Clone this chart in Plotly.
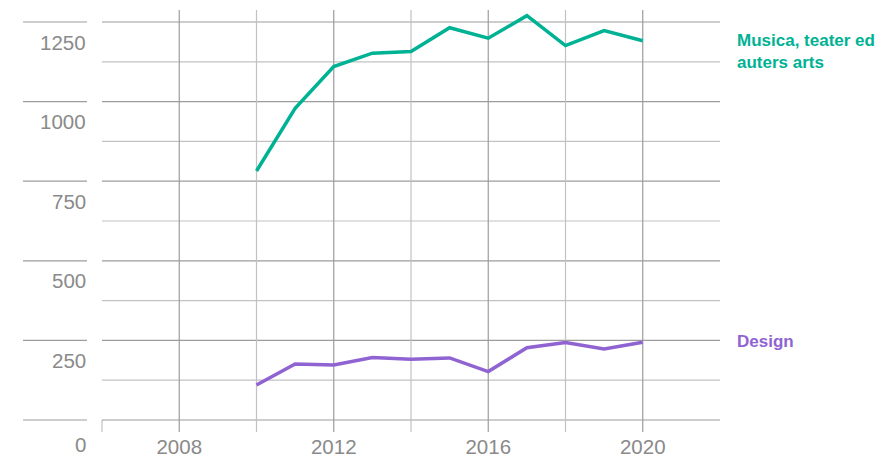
import plotly.graph_objects as go

years = list(range(2010, 2021))
musica = [782, 979, 1110, 1152, 1157, 1232, 1199, 1270, 1176, 1223, 1191]
design = [110, 176, 173, 196, 191, 195, 152, 227, 243, 223, 244]

series_names = ["Musica, teater ed<br>auters arts", "Design"]
series_colors = ["#00b294", "#9063d2"]

y_ticks = [0, 250, 500, 750, 1000, 1250]
y_grid = [0, 125, 250, 375, 500, 625, 750, 875, 1000, 1125, 1250]
x_grid = [2008, 2010, 2012, 2014, 2016, 2018, 2020]
x_labels = [2008, 2012, 2016, 2020]

X_RANGE = [2006, 2022]
Y_RANGE = [-37.7, 1287.7]

MAJOR = "#9c9c9c"
MINOR = "#c2c2c2"
TXT = "#8a8a8a"
FONT = "Liberation Sans, Arial, sans-serif"

fig = go.Figure()
for vals, name, col in zip([musica, design], series_names, series_colors):
    fig.add_trace(go.Scatter(x=years, y=vals, mode="lines",
                             line=dict(color=col, width=3.5),
                             name=name, showlegend=False, hoverinfo="x+y"))

shapes = []
# vertical gridlines (full height)
for x in x_grid:
    shapes.append(dict(type="line", xref="x", yref="y", x0=x, x1=x,
                       y0=Y_RANGE[0], y1=Y_RANGE[1],
                       line=dict(color=MAJOR if x % 4 == 0 else MINOR, width=1.2),
                       layer="below"))
# left axis tick at start
shapes.append(dict(type="line", xref="paper", yref="y", x0=0, x1=0,
                   y0=Y_RANGE[0], y1=0, line=dict(color=MINOR, width=1.2), layer="below"))
# horizontal gridlines
for v in y_grid:
    shapes.append(dict(type="line", xref="paper", yref="y", x0=0, x1=1, y0=v, y1=v,
                       line=dict(color=MAJOR if v % 250 == 0 else MINOR, width=1.2),
                       layer="below"))
# short lines above y labels
for v in y_ticks:
    shapes.append(dict(type="line", xref="paper", yref="y", x0=-0.1278, x1=-0.0243,
                       y0=v, y1=v, line=dict(color=MAJOR, width=1.2), layer="below"))

annotations = []
for v in y_ticks:
    annotations.append(dict(xref="paper", yref="y", x=-0.0243, y=v, text=str(v),
                            xanchor="right", yanchor="middle", borderpad=0,
                            yshift=-24 if v == 0 else -20, showarrow=False,
                            font=dict(family=FONT, size=20.5, color=TXT)))

annotations.append(dict(xref="paper", yref="y", x=1, y=musica[-1], text=series_names[0],
                        xanchor="left", yanchor="top", xshift=15, yshift=12,
                        align="left", showarrow=False,
                        font=dict(family=FONT, size=17, color=series_colors[0], weight="bold")))
annotations.append(dict(xref="paper", yref="y", x=1, y=design[-1], text=series_names[1],
                        xanchor="left", yanchor="middle", xshift=15, yshift=1,
                        align="left", showarrow=False,
                        font=dict(family=FONT, size=17, color=series_colors[1], weight="bold")))

# page body has an 8px default margin, so the figure is shrunk by that amount
fig.update_layout(
    width=887, height=448,
    margin=dict(l=94, r=175, t=2, b=24),
    plot_bgcolor="white", paper_bgcolor="white",
    shapes=shapes, annotations=annotations,
    xaxis=dict(range=X_RANGE, showgrid=False, zeroline=False, showline=False,
               automargin=False,
               tickvals=x_labels, ticktext=[str(x) for x in x_labels], ticks="",
               tickfont=dict(family=FONT, size=20.5, color=TXT)),
    yaxis=dict(range=Y_RANGE, showgrid=False, zeroline=False, showline=False,
               automargin=False, showticklabels=False, ticks=""),
)

fig.write_html("out.html")
